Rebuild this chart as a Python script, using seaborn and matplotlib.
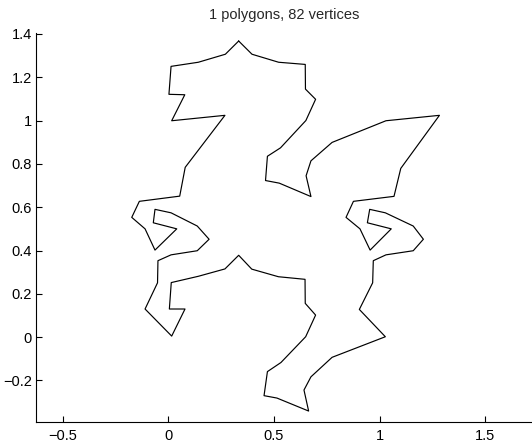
import matplotlib
matplotlib.use("Agg")
import matplotlib.pyplot as plt
import numpy as np
import pandas as pd
import seaborn as sns

# Outline of the tile, listed vertex by vertex (counter-clockwise from the top peak)
poly_x = [0.333, 0.270, 0.142, 0.013, 0.003, 0.078, 0.016, 0.268, 0.080, 0.054,
          -0.137, -0.173, -0.110, -0.063, 0.040, -0.071, -0.063, 0.013, 0.137, 0.193,
          0.137, 0.013, -0.049, -0.051, -0.110, 0.016, 0.079, 0.005, 0.014, 0.142,
          0.268, 0.333, 0.395, 0.521, 0.647, 0.648, 0.697, 0.650, 0.533, 0.469,
          0.453, 0.514, 0.664, 0.642, 0.675, 0.775, 1.027, 0.904, 0.967, 0.970,
          1.030, 1.159, 1.207, 1.159, 1.027, 0.953, 0.942, 1.055, 0.955, 0.907,
          0.841, 0.876, 1.068, 1.100, 1.283, 1.030, 0.775, 0.675, 0.652, 0.675,
          0.525, 0.460, 0.469, 0.531, 0.651, 0.697, 0.649, 0.648, 0.522, 0.396]
poly_y = [1.367, 1.306, 1.269, 1.250, 1.121, 1.119, 0.999, 1.024, 0.784, 0.651,
          0.627, 0.553, 0.500, 0.402, 0.500, 0.528, 0.590, 0.574, 0.513, 0.452,
          0.399, 0.380, 0.353, 0.251, 0.130, 0.005, 0.130, 0.130, 0.252, 0.281,
          0.315, 0.378, 0.314, 0.279, 0.267, 0.156, 0.102, 0.002, -0.117, -0.159,
          -0.270, -0.281, -0.341, -0.244, -0.183, -0.093, 0.002, 0.128, 0.251, 0.353,
          0.380, 0.399, 0.452, 0.513, 0.574, 0.590, 0.528, 0.500, 0.402, 0.500,
          0.553, 0.627, 0.650, 0.779, 1.024, 0.999, 0.899, 0.814, 0.745, 0.649,
          0.711, 0.723, 0.835, 0.874, 1.000, 1.098, 1.145, 1.259, 1.269, 1.306]

title_text = "1 polygons, 82 vertices"
x_ticks = [-0.5, 0, 0.5, 1, 1.5]
x_tick_labels = ["\u22120.5", "0", "0.5", "1", "1.5"]
y_ticks = [-0.2, 0, 0.2, 0.4, 0.6, 0.8, 1.0, 1.2, 1.4]
y_tick_labels = ["\u22120.2", "0", "0.2", "0.4", "0.6", "0.8", "1", "1.2", "1.4"]

sns.set_style("ticks")
plt.rcParams["font.family"] = ["Liberation Sans", "DejaVu Sans"]

# closed outline: repeat the first vertex at the end
df = pd.DataFrame({
    "x": poly_x + poly_x[:1],
    "y": poly_y + poly_y[:1],
    "order": np.arange(len(poly_x) + 1),
})

fig = plt.figure(figsize=(5.32, 4.43), dpi=100)
ax = fig.add_axes([0.0677, 0.0467, 0.9323, 0.8788])

sns.lineplot(data=df, x="x", y="y", sort=False, estimator=None,
             color="black", linewidth=0.85, ax=ax)

ax.set_xlim(-0.626, 1.721)
ax.set_ylim(-0.393, 1.404)
ax.set_xticks(x_ticks)
ax.set_xticklabels(x_tick_labels)
ax.set_yticks(y_ticks)
ax.set_yticklabels(y_tick_labels)
ax.set_xlabel("")
ax.set_ylabel("")
ax.tick_params(direction="in", length=4, width=0.8, colors="black",
               labelsize=10.5)
ax.tick_params(axis="x", pad=5)
ax.tick_params(axis="y", pad=3)
sns.despine(ax=ax)
for s in ("left", "bottom"):
    ax.spines[s].set_linewidth(0.8)
    ax.spines[s].set_color("black")

ax.set_title(title_text, fontsize=10.5, pad=10)

fig.savefig("out.png", dpi=100)
